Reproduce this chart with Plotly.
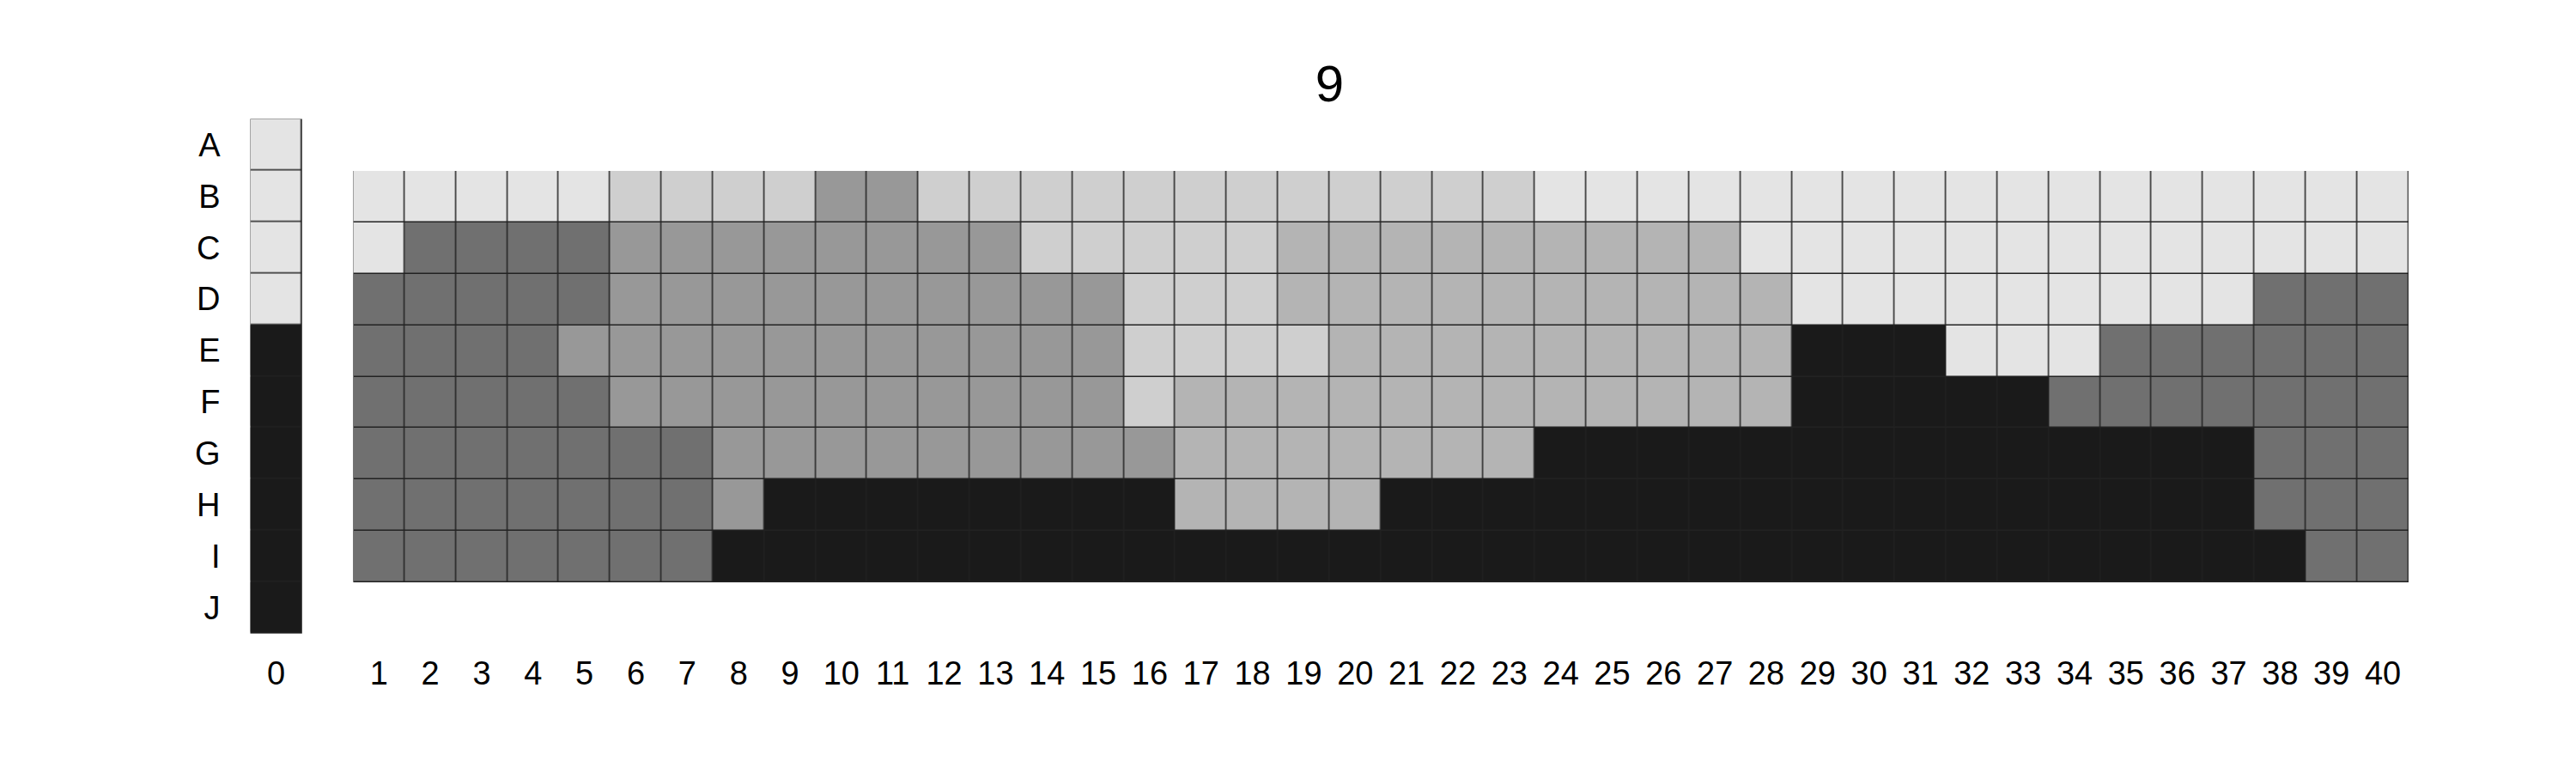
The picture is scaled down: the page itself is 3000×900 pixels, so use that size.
import plotly.graph_objects as go

# ---- data ----
title_text = "9"
row_labels = ["A", "B", "C", "D", "E", "F", "G", "H", "I", "J"]
col_labels = [str(i) for i in range(0, 41)]

# grey levels (1 = lightest ... 6 = darkest)
level_colors = ["#e4e4e4", "#cfcfcf", "#b4b4b4", "#989898", "#707070", "#1a1a1a"]

# column 0, rows A..J
col0 = [1, 1, 1, 1, 6, 6, 6, 6, 6, 6]

# columns 1..40, rows B..I
row_B = [1, 1, 1, 1, 1, 2, 2, 2, 2, 4, 4, 2, 2, 2, 2, 2, 2, 2, 2, 2, 2, 2, 2,
         1, 1, 1, 1, 1, 1, 1, 1, 1, 1, 1, 1, 1, 1, 1, 1, 1]
row_C = [1, 5, 5, 5, 5, 4, 4, 4, 4, 4, 4, 4, 4, 2, 2, 2, 2, 2, 3, 3, 3, 3, 3,
         3, 3, 3, 3, 1, 1, 1, 1, 1, 1, 1, 1, 1, 1, 1, 1, 1]
row_D = [5, 5, 5, 5, 5, 4, 4, 4, 4, 4, 4, 4, 4, 4, 4, 2, 2, 2, 3, 3, 3, 3, 3,
         3, 3, 3, 3, 3, 1, 1, 1, 1, 1, 1, 1, 1, 1, 5, 5, 5]
row_E = [5, 5, 5, 5, 4, 4, 4, 4, 4, 4, 4, 4, 4, 4, 4, 2, 2, 2, 2, 3, 3, 3, 3,
         3, 3, 3, 3, 3, 6, 6, 6, 1, 1, 1, 5, 5, 5, 5, 5, 5]
row_F = [5, 5, 5, 5, 5, 4, 4, 4, 4, 4, 4, 4, 4, 4, 4, 2, 3, 3, 3, 3, 3, 3, 3,
         3, 3, 3, 3, 3, 6, 6, 6, 6, 6, 5, 5, 5, 5, 5, 5, 5]
row_G = [5, 5, 5, 5, 5, 5, 5, 4, 4, 4, 4, 4, 4, 4, 4, 4, 3, 3, 3, 3, 3, 3, 3,
         6, 6, 6, 6, 6, 6, 6, 6, 6, 6, 6, 6, 6, 6, 5, 5, 5]
row_H = [5, 5, 5, 5, 5, 5, 5, 4, 6, 6, 6, 6, 6, 6, 6, 6, 3, 3, 3, 3, 6, 6, 6,
         6, 6, 6, 6, 6, 6, 6, 6, 6, 6, 6, 6, 6, 6, 5, 5, 5]
row_I = [5, 5, 5, 5, 5, 5, 5, 6, 6, 6, 6, 6, 6, 6, 6, 6, 6, 6, 6, 6, 6, 6, 6,
         6, 6, 6, 6, 6, 6, 6, 6, 6, 6, 6, 6, 6, 6, 6, 5, 5]
main_rows = [row_B, row_C, row_D, row_E, row_F, row_G, row_H, row_I]

# ---- figure ----
W, H = 3000, 900
n = len(level_colors)
cscale = []
for i, c in enumerate(level_colors):
    cscale.append([i / n, c])
    cscale.append([(i + 1) / n, c])

FONT = "Liberation Sans, Arial, Helvetica, sans-serif"
gap = 1.5
OX, OY = 8, 8  # page offset of the plot div

fig = go.Figure()
fig.add_trace(go.Heatmap(
    z=[[v] for v in col0], x=[0], y=list(range(10)),
    colorscale=cscale, zmin=0.5, zmax=n + 0.5, showscale=False,
    xgap=gap, ygap=gap, hoverinfo="skip", xaxis="x", yaxis="y"))
fig.add_trace(go.Heatmap(
    z=main_rows, x=list(range(1, 41)), y=list(range(1, 9)),
    colorscale=cscale, zmin=0.5, zmax=n + 0.5, showscale=False,
    xgap=gap, ygap=gap, hoverinfo="skip", xaxis="x2", yaxis="y2"))

def px_x(v):
    return (v - OX) / W

def px_y(v):
    return 1 - (v - OY) / H

label_axis_y = px_y(758)
tickfont = dict(family=FONT, size=38, color="black")

fig.update_layout(
    width=W, height=H,
    margin=dict(l=0, r=0, t=0, b=0),
    paper_bgcolor="white", plot_bgcolor="#222222",
    showlegend=False,
    title=dict(text=title_text, x=px_x(1548.5), xanchor="center",
               y=px_y(97), yanchor="middle", xref="container", yref="container",
               font=dict(family=FONT, size=60, color="black")),
    xaxis=dict(domain=[px_x(291.5), px_x(351.8)], range=[-0.5, 0.5],
               tickvals=[0], ticktext=[col_labels[0]], tickfont=tickfont,
               showgrid=False, zeroline=False, showline=False, ticks="",
               anchor="free", position=label_axis_y, fixedrange=True),
    yaxis=dict(domain=[px_y(737.6), px_y(138.5)], range=[9.5, -0.5],
               tickvals=list(range(10)), ticktext=row_labels, tickfont=tickfont,
               showgrid=False, zeroline=False, showline=False, ticks="",
               ticklabelstandoff=34, fixedrange=True),
    xaxis2=dict(domain=[px_x(411.4), px_x(2805)], range=[0.5, 40.5],
                tickvals=list(range(1, 41)), ticktext=col_labels[1:], tickfont=tickfont,
                showgrid=False, zeroline=False, showline=False, ticks="",
                anchor="free", position=label_axis_y, fixedrange=True),
    yaxis2=dict(domain=[px_y(678), px_y(199)], range=[8.5, 0.5],
                showticklabels=False, showgrid=False, zeroline=False,
                showline=False, ticks="", anchor="x2", fixedrange=True),
)

fig.write_html("out.html")
